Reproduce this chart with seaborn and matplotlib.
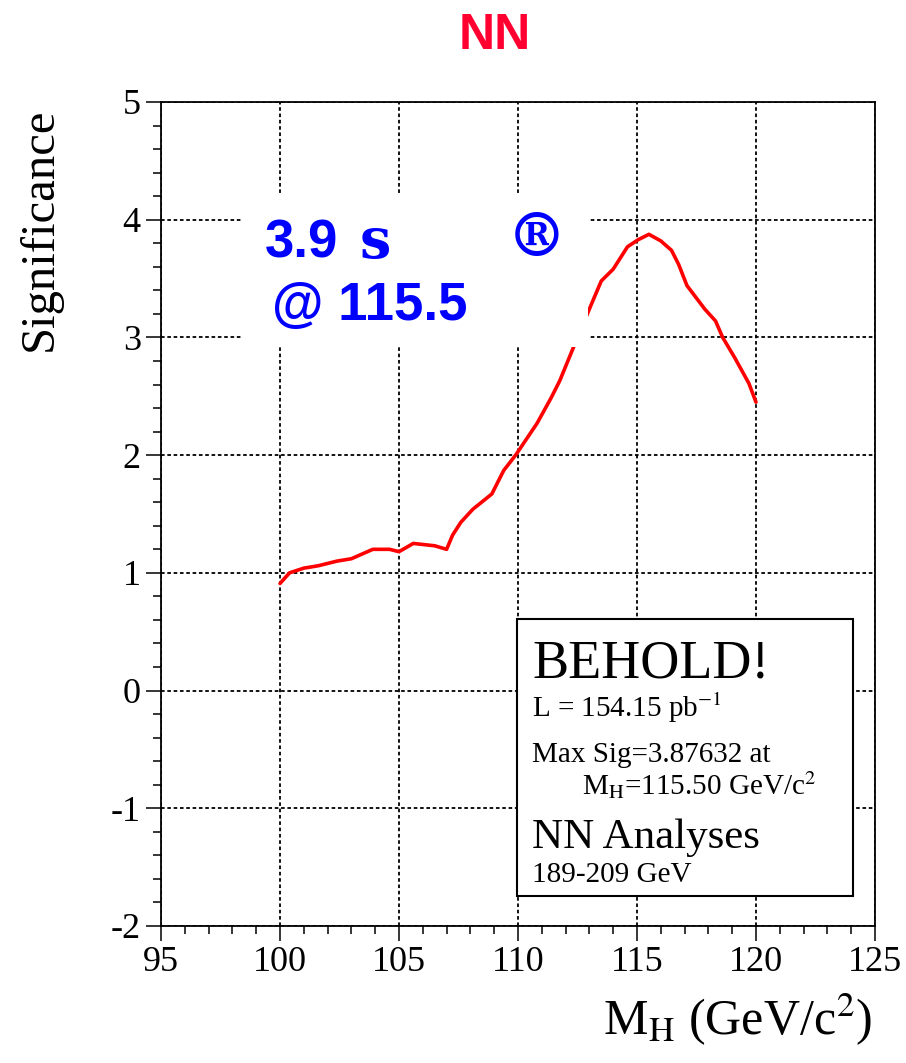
import matplotlib
matplotlib.use("Agg")
import matplotlib.pyplot as plt
import seaborn as sns
import numpy as np
import pandas as pd
from matplotlib.patches import Rectangle
from matplotlib.ticker import MultipleLocator, FixedLocator

# ---------------- data ----------------
mass = [100.0, 100.4, 101.0, 101.6, 102.4, 103.0, 103.9, 104.6, 105.0, 105.6,
        106.5, 107.0, 107.25, 107.6, 108.1, 108.9, 109.4, 109.9, 110.8, 111.4,
        111.75, 112.4, 113.1, 113.5, 114.0, 114.6, 115.05, 115.5, 116.0, 116.45,
        116.75, 117.1, 117.85, 118.3, 118.6, 119.1, 119.7, 120.0]
significance = [0.91, 1.00, 1.04, 1.06, 1.10, 1.12, 1.20, 1.20, 1.18, 1.25,
                1.23, 1.20, 1.32, 1.43, 1.54, 1.67, 1.87, 2.00, 2.27, 2.49,
                2.63, 2.95, 3.29, 3.48, 3.58, 3.77, 3.83, 3.876, 3.82, 3.74,
                3.62, 3.44, 3.24, 3.14, 3.00, 2.83, 2.61, 2.45]
x_ticks = [95, 100, 105, 110, 115, 120, 125]
y_ticks = [-2, -1, 0, 1, 2, 3, 4, 5]

title = "NN"
x_label = r"M$_{\mathrm{H}}$ (GeV/c$^{2}$)"
y_label = "Significance"
box_lines = ["BEHOLD!", r"L = 154.15 pb$^{-1}$", "Max Sig=3.87632 at",
             r"M$_{\mathrm{H}}$=115.50 GeV/c$^{2}$", "NN Analyses", "189-209 GeV"]

df = pd.DataFrame({"mass": mass, "sig": significance})

# ---------------- style ----------------
sns.set_style("ticks")
plt.rcParams["font.family"] = ["Liberation Serif", "DejaVu Serif"]
plt.rcParams["mathtext.fontset"] = "stix"
plt.rcParams["axes.unicode_minus"] = False
for k in ["text.color", "axes.labelcolor", "xtick.color", "ytick.color",
          "axes.edgecolor"]:
    plt.rcParams[k] = "black"

W, H = 906, 1063
fig = plt.figure(figsize=(W / 100, H / 100), dpi=100)

def fx(px):
    return px / W

def fy(py):
    return 1 - py / H

ax = fig.add_axes([fx(161), fy(926), fx(875) - fx(161), fy(102) - fy(926)])

sns.lineplot(data=df, x="mass", y="sig", ax=ax, color="#ff0000", lw=2.6,
             sort=False, estimator=None, zorder=3)

ax.set_xlim(95, 125)
ax.set_ylim(-2, 5)
ax.xaxis.set_major_locator(FixedLocator(x_ticks))
ax.yaxis.set_major_locator(FixedLocator(y_ticks))
ax.set_xticklabels([str(v) for v in x_ticks])
ax.set_yticklabels([str(v) for v in y_ticks])
ax.xaxis.set_minor_locator(MultipleLocator(1))
ax.yaxis.set_minor_locator(MultipleLocator(0.2))
ax.tick_params(which="major", direction="out", length=11, width=1.1,
               labelsize=26, pad=3.5, colors="black")
ax.tick_params(which="minor", direction="out", length=5.5, width=1.1,
               colors="black")
ax.tick_params(top=False, right=False, which="both")
for s in ax.spines.values():
    s.set_visible(True)
    s.set_color("black")
    s.set_linewidth(1.3)
ax.grid(True, which="major", color="black", linestyle=(0, (2.0, 1.5)), lw=1.3)
ax.set_axisbelow(True)
ax.set_xlabel("")
ax.set_ylabel("")

# white patch behind the blue annotation
ax.add_patch(Rectangle((fx(243), fy(347)), fx(588) - fx(243), fy(195) - fy(347),
                       transform=fig.transFigure, facecolor="white",
                       edgecolor="none", zorder=5, clip_on=False))

blue = "#0000ff"
fig.text(fx(265), fy(258), "3.9", color=blue, fontsize=38, fontweight="bold",
         family="Liberation Sans", va="baseline", ha="left", zorder=10)
fig.text(fx(360), fy(258), "s", color=blue, fontsize=40, fontweight="bold",
         family="DejaVu Serif", va="baseline", ha="left", zorder=10)
fig.text(fx(537), fy(239), "®", color=blue, fontsize=43, fontweight="bold",
         family="DejaVu Serif", va="center", ha="center", zorder=10)
fig.text(fx(272), fy(320), "@ 115.5", color=blue, fontsize=38, fontweight="bold",
         family="Liberation Sans", va="baseline", ha="left", zorder=10)

# title
fig.text(fx(495), fy(49), title, color="#ff0030", fontsize=36, fontweight="bold",
         family="Liberation Sans", ha="center", va="baseline")

# axis labels (ROOT style placement)
fig.text(fx(872), fy(1035), x_label, fontsize=36, ha="right", va="baseline")
fig.text(fx(40), fy(108), y_label, fontsize=35, rotation=90,
         ha="center", va="top")

# info box
ax.add_patch(Rectangle((fx(517), fy(896)), fx(853) - fx(517), fy(619) - fy(896),
                       transform=fig.transFigure, facecolor="white",
                       edgecolor="black", lw=1.5, zorder=6, clip_on=False))
box_pos = [(532, 678, 39), (532, 717, 21), (532, 762, 21),
           (582, 795, 21), (532, 848, 31), (532, 882, 21)]
for txt, (px, py, fs) in zip(box_lines, box_pos):
    fig.text(fx(px), fy(py), txt, fontsize=fs, ha="left", va="baseline",
             zorder=10)

fig.savefig("out.png", dpi=100, facecolor="white")
